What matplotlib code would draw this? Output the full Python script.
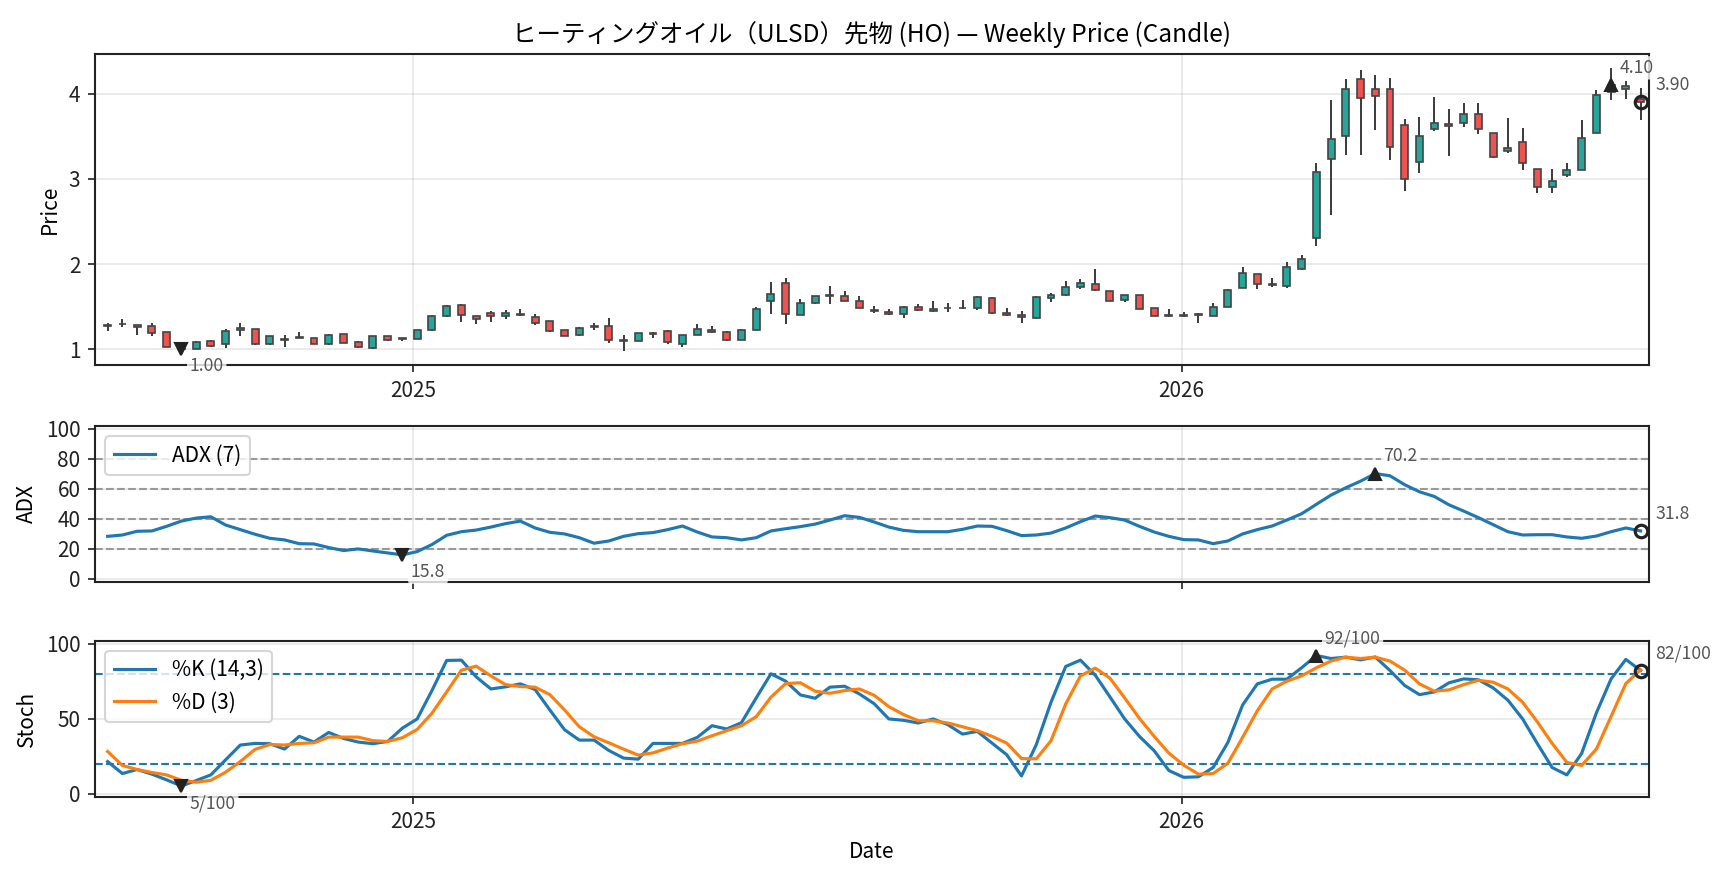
import numpy as np
import pandas as pd
import matplotlib
matplotlib.use("Agg")
import matplotlib.pyplot as plt
import matplotlib.dates as mdates

plt.rcParams['font.family'] = ['Noto Sans CJK JP', 'DejaVu Sans']

# ---------------- data ----------------
dates = pd.date_range('2024-08-09', periods=105, freq='7D')

opens = [1.275, 1.29, 1.28, 1.27, 1.20, 1.03, 1.00, 1.10, 1.06, 1.23,
         1.24, 1.06, 1.11, 1.13, 1.13, 1.06, 1.18, 1.08, 1.01, 1.15,
         1.12, 1.12, 1.22, 1.39, 1.52, 1.39, 1.42, 1.39, 1.40, 1.38,
         1.33, 1.22, 1.17, 1.26, 1.27, 1.11, 1.10, 1.18, 1.21, 1.06,
         1.17, 1.23, 1.20, 1.11, 1.23, 1.56, 1.78, 1.40, 1.54, 1.62,
         1.63, 1.57, 1.46, 1.44, 1.41, 1.50, 1.45, 1.48, 1.48, 1.48,
         1.60, 1.43, 1.40, 1.37, 1.60, 1.64, 1.73, 1.77, 1.68, 1.58,
         1.64, 1.48, 1.40, 1.39, 1.40, 1.39, 1.49, 1.72, 1.88, 1.76,
         1.74, 1.94, 2.30, 3.23, 3.50, 4.17, 4.06, 4.06, 3.63, 3.20,
         3.59, 3.64, 3.65, 3.76, 3.54, 3.33, 3.43, 3.12, 2.91, 3.04,
         3.10, 3.54, 4.02, 4.05, 3.94]
highs = [1.31, 1.35, 1.28, 1.31, 1.20, 1.06, 1.09, 1.11, 1.24, 1.31,
         1.24, 1.16, 1.17, 1.20, 1.13, 1.18, 1.18, 1.10, 1.16, 1.16,
         1.13, 1.23, 1.40, 1.52, 1.53, 1.39, 1.45, 1.46, 1.47, 1.41,
         1.33, 1.22, 1.26, 1.31, 1.37, 1.17, 1.19, 1.20, 1.22, 1.17,
         1.30, 1.27, 1.21, 1.24, 1.50, 1.79, 1.83, 1.59, 1.63, 1.74,
         1.68, 1.63, 1.51, 1.47, 1.51, 1.53, 1.57, 1.54, 1.58, 1.62,
         1.61, 1.48, 1.45, 1.62, 1.66, 1.80, 1.82, 1.94, 1.68, 1.64,
         1.64, 1.48, 1.47, 1.44, 1.43, 1.54, 1.71, 1.96, 1.88, 1.84,
         2.02, 2.11, 3.19, 3.93, 4.17, 4.28, 4.22, 4.19, 3.70, 3.73,
         3.96, 3.82, 3.89, 3.89, 3.54, 3.72, 3.60, 3.12, 3.11, 3.19,
         3.69, 4.04, 4.30, 4.15, 4.07]
lows = [1.21, 1.26, 1.17, 1.16, 1.03, 0.99, 1.00, 1.03, 1.01, 1.15,
        1.05, 1.05, 1.02, 1.13, 1.06, 1.05, 1.07, 1.01, 1.00, 1.09,
        1.09, 1.12, 1.21, 1.38, 1.32, 1.30, 1.32, 1.36, 1.39, 1.28,
        1.20, 1.16, 1.16, 1.23, 1.07, 0.98, 1.10, 1.13, 1.06, 1.03,
        1.17, 1.19, 1.10, 1.11, 1.22, 1.41, 1.30, 1.40, 1.53, 1.53,
        1.56, 1.48, 1.43, 1.40, 1.37, 1.45, 1.44, 1.44, 1.47, 1.46,
        1.41, 1.39, 1.31, 1.36, 1.55, 1.63, 1.71, 1.68, 1.56, 1.55,
        1.47, 1.39, 1.38, 1.38, 1.31, 1.39, 1.49, 1.72, 1.71, 1.73,
        1.72, 1.93, 2.21, 2.57, 3.28, 3.28, 3.57, 3.22, 2.86, 3.07,
        3.56, 3.27, 3.61, 3.53, 3.24, 3.30, 3.10, 2.83, 2.83, 3.02,
        3.10, 3.54, 3.93, 3.94, 3.69]
closes = [1.28, 1.30, 1.26, 1.19, 1.03, 1.00, 1.08, 1.04, 1.21, 1.25,
          1.06, 1.15, 1.12, 1.14, 1.06, 1.17, 1.07, 1.02, 1.15, 1.11,
          1.13, 1.22, 1.39, 1.51, 1.40, 1.35, 1.39, 1.42, 1.41, 1.31,
          1.21, 1.16, 1.25, 1.27, 1.11, 1.10, 1.19, 1.19, 1.08, 1.17,
          1.24, 1.20, 1.11, 1.23, 1.47, 1.65, 1.41, 1.54, 1.63, 1.64,
          1.57, 1.48, 1.45, 1.41, 1.50, 1.46, 1.47, 1.48, 1.48, 1.61,
          1.42, 1.40, 1.38, 1.61, 1.64, 1.73, 1.78, 1.69, 1.57, 1.64,
          1.47, 1.39, 1.39, 1.395, 1.40, 1.50, 1.70, 1.90, 1.77, 1.75,
          1.96, 2.06, 3.08, 3.47, 4.06, 3.95, 3.97, 3.37, 3.00, 3.50,
          3.66, 3.62, 3.76, 3.59, 3.26, 3.36, 3.19, 2.91, 2.98, 3.10,
          3.48, 3.99, 4.10, 4.09, 3.90]

adx = [28.2, 29.1, 31.6, 31.8, 34.9, 38.4, 40.4, 41.3, 35.8, 32.7,
       29.6, 26.9, 25.8, 23.3, 23.1, 20.7, 18.7, 19.8, 18.4, 17.1,
       15.8, 18.0, 22.7, 28.9, 31.3, 32.4, 34.4, 36.7, 38.4, 33.8,
       30.9, 29.8, 27.3, 23.6, 25.1, 28.2, 30.0, 30.7, 32.7, 35.1,
       31.1, 27.8, 27.3, 25.8, 27.3, 31.8, 33.3, 34.7, 36.4, 39.1,
       42.0, 40.9, 37.8, 34.4, 32.2, 31.3, 31.3, 31.3, 32.9, 35.1,
       34.9, 32.0, 28.7, 29.1, 30.4, 33.8, 38.0, 41.8, 40.7, 39.1,
       34.9, 31.1, 28.2, 26.0, 25.8, 23.3, 25.1, 29.8, 32.7, 35.1,
       39.1, 43.3, 49.6, 55.8, 60.7, 65.1, 70.2, 68.7, 62.7, 58.0,
       54.9, 49.3, 45.1, 40.7, 36.0, 31.3, 29.1, 29.3, 29.3, 27.8,
       26.9, 28.4, 31.3, 33.8, 31.8]

stoch_k = [21.3, 13.3, 16.0, 12.9, 9.1, 5.0, 8.6, 12.4, 22.4, 32.3,
           33.4, 33.2, 29.6, 38.1, 34.3, 40.7, 36.7, 34.3, 33.2, 34.7,
           43.6, 49.7, 68.6, 88.7, 88.9, 77.8, 69.7, 71.1, 73.1, 69.3,
           55.7, 42.5, 35.6, 35.6, 28.7, 23.6, 22.9, 33.4, 33.4, 33.4,
           37.4, 45.2, 43.0, 47.2, 63.7, 79.8, 74.9, 65.7, 63.5, 70.9,
           71.5, 66.4, 59.9, 49.7, 48.8, 47.0, 49.7, 45.9, 39.6, 41.4,
           33.6, 25.8, 11.7, 32.5, 60.8, 84.7, 88.9, 78.9, 64.4, 49.7,
           38.1, 28.5, 15.3, 10.8, 11.1, 17.3, 34.0, 59.0, 73.1, 76.2,
           76.2, 83.8, 92.0, 90.0, 90.9, 89.1, 91.0, 82.0, 72.0, 65.9,
           67.7, 73.8, 76.4, 75.8, 70.4, 62.2, 49.7, 33.2, 17.3, 12.4,
           26.7, 53.7, 76.4, 89.4, 82.0]

stoch_d = [28.0, 18.7, 16.0, 14.0, 12.4, 8.8, 7.5, 8.8, 14.2, 21.3,
           29.4, 32.7, 32.3, 33.4, 33.8, 37.6, 37.6, 37.6, 35.2, 34.7,
           37.2, 42.7, 53.5, 67.7, 82.2, 84.9, 78.4, 72.6, 71.3, 70.9,
           65.9, 55.7, 44.5, 37.8, 33.8, 29.6, 25.6, 27.1, 30.3, 33.2,
           34.9, 38.5, 41.9, 45.2, 51.2, 64.2, 73.3, 73.8, 68.2, 66.8,
           68.6, 69.7, 65.5, 57.9, 52.6, 48.5, 48.5, 47.0, 44.5, 41.9,
           38.1, 33.6, 23.3, 23.1, 35.2, 59.7, 78.4, 83.6, 76.9, 63.7,
           50.1, 38.1, 26.9, 18.9, 12.9, 13.3, 20.2, 37.4, 55.2, 69.7,
           74.9, 78.4, 83.8, 88.3, 90.9, 90.0, 90.9, 88.3, 82.2, 73.1,
           68.2, 69.1, 72.6, 75.5, 74.2, 69.7, 60.8, 47.7, 33.4, 20.7,
           18.7, 29.6, 51.4, 73.3, 82.5]

title = 'ヒーティングオイル（ULSD）先物 (HO) — Weekly Price (Candle)'

# ---------------- styling ----------------
UP = '#26a69a'
DOWN = '#ef5350'
MARK = '#222222'
LABEL_C = '#555555'
SPINE_C = '#222222'

W, H, DPI = 1728, 878, 150
fig = plt.figure(figsize=(W / DPI, H / DPI), dpi=DPI)

left = 95 / W
width = (1649 - 95) / W
ax1 = fig.add_axes([left, 1 - 365 / H, width, (365 - 54) / H])
ax2 = fig.add_axes([left, 1 - 581.5 / H, width, (581.5 - 426) / H], sharex=ax1)
ax3 = fig.add_axes([left, 1 - 796.5 / H, width, (796.5 - 640.5) / H], sharex=ax1)

x = mdates.date2num(dates.to_pydatetime())
o = np.array(opens); h = np.array(highs); l = np.array(lows); c = np.array(closes)
adx_a = np.array(adx); k_a = np.array(stoch_k); d_a = np.array(stoch_d)

bbox_kw = dict(boxstyle='round,pad=0.15', fc='white', ec='none', alpha=0.8)


def annotate(ax, xi, yi, text, up, last=False):
    if last:
        off, va = (7, 4), 'bottom'
    elif up:
        off, va = (4, 4), 'bottom'
    else:
        off, va = (4, -4), 'top'
    ax.annotate(text, xy=(xi, yi), xytext=off, textcoords='offset points',
                ha='left', va=va, fontsize=8.5, color=LABEL_C, bbox=bbox_kw,
                zorder=10, annotation_clip=False)


for ax in (ax1, ax2, ax3):
    ax.grid(True, color='#b0b0b0', alpha=0.3, lw=0.8)
    ax.set_axisbelow(True)
    for s in ax.spines.values():
        s.set_color(SPINE_C)
        s.set_linewidth(1.0)
    ax.tick_params(labelsize=10, colors='#222222')

# ---- candles ----
is_up = c >= o
colors = np.where(is_up, UP, DOWN)
body_bottom = np.minimum(o, c)
body_h = np.maximum(np.abs(c - o), 0.008)
ax1.vlines(x, l, h, color='#333333', lw=0.9, zorder=2)
ax1.bar(x, body_h, bottom=body_bottom, width=3.3, color=colors,
        edgecolor='#444444', linewidth=0.8, zorder=3)

imin = int(np.argmin(c)); imax = int(np.argmax(c))
ax1.plot(x[imin], c[imin], marker='v', color=MARK, ms=6, zorder=6, ls='none')
ax1.plot(x[imax], c[imax], marker='^', color=MARK, ms=6, zorder=6, ls='none')
ax1.plot(x[-1], c[-1], marker='o', mfc='none', mec=MARK, mew=1.5, ms=6, zorder=6, ls='none')
annotate(ax1, x[imin], c[imin], f'{c[imin]:.2f}', up=False)
annotate(ax1, x[imax], c[imax], f'{c[imax]:.2f}', up=True)
annotate(ax1, x[-1], c[-1], f'{c[-1]:.2f}', up=True, last=True)

span = h.max() - l.min()
ax1.set_ylim(l.min() - 0.05 * span, h.max() + 0.05 * span)
ax1.set_yticks([1, 2, 3, 4])
ax1.set_ylabel('Price', fontsize=10)
ax1.set_title(title, fontsize=11.75)

# ---- ADX ----
for lv in (20, 40, 60, 80):
    ax2.axhline(lv, color='#999999', ls='--', lw=1.0, zorder=1)
ax2.plot(x, adx_a, color='#1f77b4', lw=1.5, label='ADX (7)', zorder=3)
amin = int(np.argmin(adx_a)); amax = int(np.argmax(adx_a))
ax2.plot(x[amin], adx_a[amin], marker='v', color=MARK, ms=6, zorder=6, ls='none')
ax2.plot(x[amax], adx_a[amax], marker='^', color=MARK, ms=6, zorder=6, ls='none')
ax2.plot(x[-1], adx_a[-1], marker='o', mfc='none', mec=MARK, mew=1.5, ms=6, zorder=6, ls='none')
annotate(ax2, x[amin], adx_a[amin], f'{adx_a[amin]:.1f}', up=False)
annotate(ax2, x[amax], adx_a[amax], f'{adx_a[amax]:.1f}', up=True)
annotate(ax2, x[-1], adx_a[-1], f'{adx_a[-1]:.1f}', up=True, last=True)
ax2.set_ylim(-2, 102)
ax2.set_yticks([0, 20, 40, 60, 80, 100])
ax2.set_ylabel('ADX', fontsize=10)
ax2.legend(loc='upper left', fontsize=10)
ax2.tick_params(labelbottom=False)

# ---- Stochastic ----
for lv in (20, 80):
    ax3.axhline(lv, color='#1f77b4', ls='--', lw=1.0, zorder=1)
ax3.plot(x, k_a, color='#1f77b4', lw=1.5, label='%K (14,3)', zorder=3)
ax3.plot(x, d_a, color='#ff7f0e', lw=1.5, label='%D (3)', zorder=3)
kmin = int(np.argmin(k_a)); kmax = int(np.argmax(k_a))
ax3.plot(x[kmin], k_a[kmin], marker='v', color=MARK, ms=6, zorder=6, ls='none')
ax3.plot(x[kmax], k_a[kmax], marker='^', color=MARK, ms=6, zorder=6, ls='none')
ax3.plot(x[-1], k_a[-1], marker='o', mfc='none', mec=MARK, mew=1.5, ms=6, zorder=6, ls='none')
annotate(ax3, x[kmin], k_a[kmin], f'{k_a[kmin]:.0f}/100', up=False)
annotate(ax3, x[kmax], k_a[kmax], f'{k_a[kmax]:.0f}/100', up=True)
annotate(ax3, x[-1], k_a[-1], f'{k_a[-1]:.0f}/100', up=True, last=True)
ax3.set_ylim(-2, 102)
ax3.set_yticks([0, 50, 100])
ax3.set_ylabel('Stoch', fontsize=10)
ax3.set_xlabel('Date', fontsize=10)
ax3.legend(loc='upper left', fontsize=10)

ax1.set_xlim(x[0] - 6, x[-1] + 4)
ax1.xaxis.set_major_locator(mdates.YearLocator())
ax1.xaxis.set_major_formatter(mdates.DateFormatter('%Y'))

fig.savefig('out.png', dpi=DPI)
